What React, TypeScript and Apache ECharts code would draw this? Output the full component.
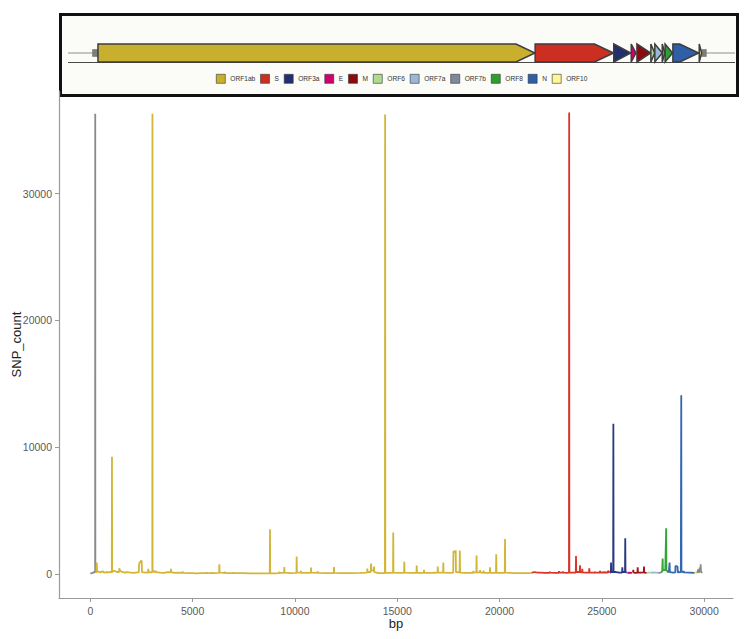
import React, { useEffect, useRef } from "react";
import * as echarts from "echarts";

// ---------- gene annotation (bp start, bp end) ----------
const geneNames = ["ORF1ab", "S", "ORF3a", "E", "M", "ORF6", "ORF7a", "ORF7b", "ORF8", "N", "ORF10"];
const geneStarts = [266, 21563, 25393, 26245, 26523, 27202, 27394, 27756, 27894, 28274, 29558];
const geneEnds = [21555, 25384, 26220, 26472, 27191, 27387, 27759, 27887, 28259, 29533, 29674];
const geneFill = ["#C9AF2E", "#CC2F22", "#232E70", "#D1006F", "#8B0A0F", "#ADDC8F", "#9DB6D6", "#7C8A9C", "#2E9E2E", "#2F5FA6", "#FFF59A"];
const lineColors = ["#D2B63A", "#D7352A", "#2B3A80", "#D1006F", "#A3131B", "#A8DB8C", "#9AB5D5", "#7B8B9E", "#34A534", "#3467B0", "#EEDD55"];
const utrRanges = [[0, 266], [29674, 29903]];

// ---------- SNP counts per region: [bp, SNP_count] ----------
const utr5SNP = [[1, 30], [60, 60], [120, 80], [180, 150], [225, 120], [236, 200], [241, 36300], [246, 200], [265, 100]];
const orf1abSNP = [
  [266, 100], [300, 150], [313, 900], [330, 200], [400, 180], [500, 120], [600, 200], [700, 100], [800, 150], [900, 130],
  [1000, 150], [1050, 150], [1059, 9250], [1068, 150], [1163, 250], [1300, 150], [1405, 150], [1418, 450], [1440, 300], [1500, 200],
  [1600, 150], [1700, 100], [1800, 150], [1900, 120], [2000, 100], [2100, 80], [2200, 100], [2300, 120], [2370, 120], [2380, 700],
  [2416, 950], [2450, 900], [2480, 1050], [2510, 1000], [2525, 150], [2700, 100], [2820, 100], [2835, 400], [2850, 150], [3000, 120],
  [3030, 150], [3037, 36300], [3044, 350], [3100, 200], [3180, 120], [3190, 260], [3200, 150], [3400, 100], [3600, 80], [3800, 150],
  [3930, 120], [3944, 400], [3958, 150], [4100, 80], [4300, 100], [4505, 90], [4515, 210], [4525, 90], [4800, 60], [5000, 60],
  [5200, 50], [5400, 60], [5680, 60], [5690, 130], [5700, 60], [5950, 60], [5963, 130], [5975, 70], [6295, 80], [6306, 760],
  [6318, 100], [6570, 80], [6583, 180], [6595, 70], [6980, 60], [6990, 130], [7000, 60], [7500, 60], [7828, 50], [7838, 100],
  [7848, 60], [8400, 50], [8772, 50], [8782, 3530], [8792, 50], [9000, 50], [9227, 60], [9237, 180], [9247, 80], [9470, 80],
  [9482, 550], [9494, 100], [9800, 70], [10075, 80], [10085, 1370], [10097, 120], [10290, 100], [10300, 240], [10312, 80], [10500, 80],
  [10777, 80], [10787, 500], [10799, 100], [11103, 80], [11113, 210], [11125, 80], [11500, 60], [11700, 60], [11900, 60], [11911, 550],
  [11922, 80], [12200, 60], [12400, 60], [12683, 60], [12693, 100], [12703, 60], [13200, 80], [13525, 100], [13538, 420], [13550, 150],
  [13707, 150], [13719, 810], [13740, 300], [13855, 250], [13865, 580], [13877, 150], [14100, 60], [14300, 60], [14398, 70],
  [14408, 36250], [14418, 100], [14600, 80], [14795, 80], [14805, 3260], [14817, 100], [15100, 80], [15335, 80], [15346, 950],
  [15358, 100], [15700, 80], [15940, 80], [15952, 660], [15964, 90], [16298, 80], [16309, 320], [16320, 80], [16650, 80],
  [16787, 80], [16797, 160], [16807, 80], [16968, 100], [16980, 580], [16992, 100], [17240, 100], [17252, 900], [17264, 100],
  [17500, 80], [17735, 100], [17747, 1800], [17800, 1700], [17858, 1850], [17870, 150], [18048, 120], [18060, 1850], [18072, 100],
  [18300, 80], [18500, 80], [18707, 90], [18717, 240], [18729, 100], [18865, 120], [18877, 1450], [18889, 120], [19040, 120],
  [19050, 310], [19062, 100], [19210, 100], [19220, 260], [19232, 80], [19523, 80], [19535, 530], [19547, 80], [19827, 80],
  [19839, 1550], [19851, 80], [20256, 80], [20268, 2760], [20280, 100], [20500, 90], [20700, 70], [21000, 60], [21200, 70],
  [21400, 60], [21555, 60]
];
const sSNP = [
  [21563, 80], [21700, 150], [21800, 120], [21900, 100], [22000, 100], [22200, 90], [22455, 90], [22467, 180], [22479, 100],
  [22700, 90], [22895, 90], [22907, 210], [22919, 100], [23090, 100], [23100, 200], [23112, 100], [23300, 80], [23394, 100],
  [23403, 36400], [23412, 120], [23600, 100], [23726, 100], [23738, 1420], [23750, 150], [23921, 150], [23933, 690], [23945, 150],
  [24034, 120], [24046, 400], [24058, 120], [24200, 100], [24376, 100], [24388, 450], [24400, 100], [24654, 100], [24666, 160],
  [24678, 100], [24899, 100], [24911, 240], [24923, 100], [25170, 130], [25288, 100], [25300, 240], [25384, 100]
];
const orf3aSNP = [
  [25393, 100], [25437, 120], [25449, 890], [25461, 150], [25553, 150], [25563, 11850], [25573, 150], [25700, 150], [25850, 100],
  [25989, 100], [26001, 530], [26013, 150], [26132, 150], [26144, 2820], [26156, 150], [26220, 100]
];
const eSNP = [[26245, 80], [26350, 100], [26472, 80]];
const mSNP = [
  [26523, 100], [26538, 320], [26550, 100], [26650, 80], [26740, 100], [26752, 530], [26764, 100], [26900, 100], [27049, 120],
  [27061, 580], [27073, 100], [27191, 80]
];
const orf6SNP = [[27202, 80], [27300, 120], [27387, 80]];
const orf7aSNP = [[27394, 80], [27500, 120], [27650, 100], [27759, 80]];
const orf7bSNP = [[27760, 80], [27887, 100]];
const orf8SNP = [
  [27894, 100], [27950, 200], [27960, 200], [27972, 1210], [27984, 300], [28100, 300], [28132, 300], [28144, 3600], [28156, 300],
  [28259, 100]
];
const nSNP = [
  [28274, 100], [28299, 120], [28311, 890], [28323, 150], [28500, 100], [28588, 120], [28600, 630], [28700, 580], [28712, 120],
  [28860, 150], [28871, 150], [28881, 14100], [28891, 200], [28988, 120], [29000, 240], [29012, 120], [29300, 100], [29533, 80]
];
const orf10SNP = [[29558, 60], [29600, 150], [29674, 60]];
const utr3SNP = [
  [29675, 80], [29700, 350], [29720, 150], [29770, 150], [29780, 500], [29792, 150], [29820, 200], [29830, 770], [29842, 200],
  [29903, 80]
];
const geneSNP = [orf1abSNP, sSNP, orf3aSNP, eSNP, mSNP, orf6SNP, orf7aSNP, orf7bSNP, orf8SNP, nSNP, orf10SNP];

const xTicks = [0, 5000, 10000, 15000, 20000, 25000, 30000];
const yTicks = [0, 10000, 20000, 30000];

const FONT = "Liberation Sans, Arial, Helvetica, sans-serif";

export default function App() {
  const ref = useRef<HTMLDivElement>(null);
  useEffect(() => {
    if (!ref.current) return;
    const chart = echarts.init(ref.current, undefined, { renderer: "svg" });

    const geneSeries: any[] = geneNames.map((name, i) => ({
      type: "custom",
      name,
      xAxisIndex: 1,
      yAxisIndex: 1,
      itemStyle: { color: geneFill[i] },
      data: [[geneStarts[i], geneEnds[i]]],
      z: 5 + i,
      renderItem: (params: any, api: any) => {
        const s = api.coord([api.value(0), 0]);
        const e = api.coord([api.value(1), 0]);
        const cy = s[1];
        const x0 = s[0];
        const x1 = e[0];
        const hh = 9;
        const head = Math.min(19, x1 - x0);
        return {
          type: "polygon",
          shape: {
            points: [[x0, cy - hh], [x1 - head, cy - hh], [x1, cy], [x1 - head, cy + hh], [x0, cy + hh]],
          },
          style: { fill: geneFill[i], stroke: "#3d3d3d", lineWidth: 1.5, lineJoin: "miter" },
        };
      },
    }));

    const utrSeries = {
      type: "custom",
      name: "UTR",
      xAxisIndex: 1,
      yAxisIndex: 1,
      data: utrRanges,
      z: 4,
      renderItem: (params: any, api: any) => {
        const s = api.coord([api.value(0), 0]);
        const e = api.coord([api.value(1), 0]);
        return {
          type: "rect",
          shape: { x: s[0], y: s[1] - 3.5, width: Math.max(e[0] - s[0], 2), height: 7 },
          style: { fill: "#7d7d7d", stroke: "#666", lineWidth: 0.5 },
        };
      },
    };

    const mkLine = (name: string, data: number[][], color: string) => ({
      type: "line",
      name,
      data,
      xAxisIndex: 0,
      yAxisIndex: 0,
      showSymbol: false,
      symbol: "none",
      lineStyle: { color, width: 1.8 },
      itemStyle: { color },
      z: 3,
    });

    const lineSeries = [
      mkLine("snp-5UTR", utr5SNP, "#8a8a8a"),
      ...geneNames.map((g, i) => mkLine("snp-" + g, geneSNP[i], lineColors[i])),
      mkLine("snp-3UTR", utr3SNP, "#8a8a8a"),
    ];

    const plain = (v: number) => String(v);

    const option: any = {
      animation: false,
      backgroundColor: "#ffffff",
      textStyle: { fontFamily: FONT },
      graphic: [
        {
          type: "rect",
          z: 0,
          shape: { x: 60.5, y: 14.5, width: 677, height: 81 },
          style: { fill: "#fbfbf8", stroke: "#111111", lineWidth: 3 },
        },
        {
          type: "line",
          z: 1,
          shape: { x1: 68, y1: 53, x2: 735, y2: 53 },
          style: { stroke: "#c4c4c4", lineWidth: 2 },
        },
        {
          type: "line",
          z: 1,
          shape: { x1: 68, y1: 62.5, x2: 735, y2: 62.5 },
          style: { stroke: "#4a4a4a", lineWidth: 1 },
        },
      ],
      legend: {
        show: true,
        left: 216,
        top: 74,
        padding: 0,
        itemWidth: 9,
        itemHeight: 9,
        itemGap: 5,
        icon: "rect",
        selectedMode: false,
        textStyle: { fontSize: 6.6, color: "#333", fontFamily: FONT },
        data: geneNames.map((g, i) => ({
          name: g,
          icon: "rect",
          itemStyle: { color: geneFill[i], borderColor: "#333", borderWidth: 0.6 },
        })),
      },
      grid: [
        { left: 59, right: 13, top: 91, bottom: 41, containLabel: false, outerBoundsMode: "none" },
        { left: 68, right: 11, top: 44, height: 18, containLabel: false, outerBoundsMode: "none" },
      ],
      xAxis: [
        {
          type: "value",
          gridIndex: 0,
          min: -1530,
          max: 31410,
          name: "bp",
          nameLocation: "middle",
          nameGap: 19,
          nameMoveOverlap: false,
          nameTextStyle: { fontSize: 13, color: "#222", fontFamily: FONT },
          axisLine: { show: true, onZero: false, lineStyle: { color: "#9a9a9a", width: 1.2 } },
          axisTick: { show: true, length: 4, customValues: xTicks, lineStyle: { color: "#9a9a9a" } },
          axisLabel: { customValues: xTicks, formatter: plain, fontSize: 10.5, color: "#5a5a5a", margin: 7, fontFamily: FONT },
          splitLine: { show: false },
        },
        { type: "value", gridIndex: 1, min: -1194, max: 31300, show: false },
      ],
      yAxis: [
        {
          type: "value",
          gridIndex: 0,
          min: -1900,
          max: 38100,
          name: "SNP_count",
          nameLocation: "middle",
          nameRotate: 90,
          nameGap: 36,
          nameMoveOverlap: false,
          nameTextStyle: { fontSize: 13, color: "#222", fontFamily: FONT },
          axisLine: { show: true, onZero: false, lineStyle: { color: "#9a9a9a", width: 1.2 } },
          axisTick: { show: true, length: 4, customValues: yTicks, lineStyle: { color: "#9a9a9a" } },
          axisLabel: { customValues: yTicks, formatter: plain, fontSize: 10.5, color: "#5a5a5a", margin: 7, fontFamily: FONT },
          splitLine: { show: false },
        },
        { type: "value", gridIndex: 1, min: -1, max: 1, show: false },
      ],
      series: [...geneSeries, utrSeries, ...lineSeries],
    };

    chart.setOption(option);
    return () => chart.dispose();
  }, []);

  return (
    <div
      ref={ref}
      style={{ position: "fixed", left: 0, top: 0, width: 746, height: 639, background: "#fff" }}
    />
  );
}
